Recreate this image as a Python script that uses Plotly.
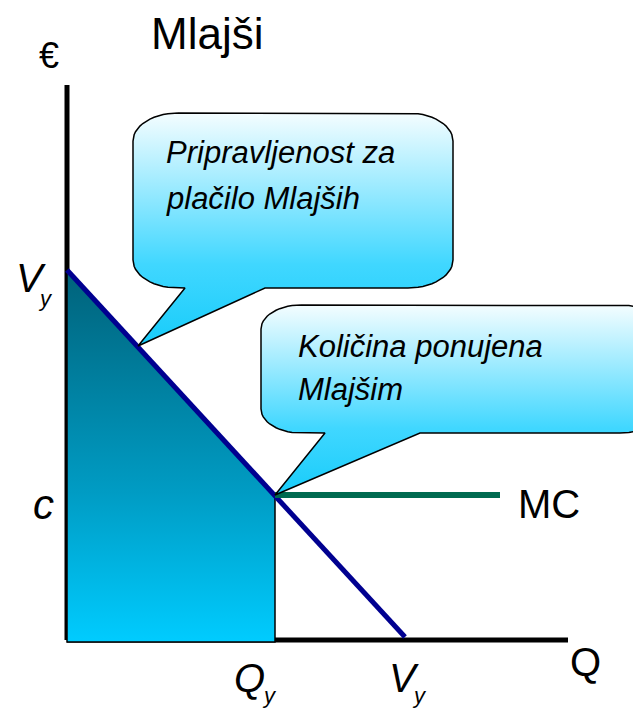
import math
import plotly.graph_objects as go

# ---- data (conceptual economic diagram, in chart units) ----
demand_q = [0, 338]          # quantity at Vy (price intercept) and near Vy (quantity intercept)
demand_p = [370, 3]
c_price = 145                # marginal cost level c
q_young = 208                # Qy
mc_q = [208, 433]
mc_p = [145, 145]
axis_price_top = 555
axis_q_right = 501
willingness_point = (71, 294)  # point on demand curve the first callout points at

labels_text = {
    "title": "Mlajši",
    "euro": "€",
    "callout1": ["Pripravljenost za", "plačilo Mlajših"],
    "callout2": ["Količina ponujena", "Mlajšim"],
}

PAGE_OFF = 8                 # default body margin of the page
W, H = 641 - PAGE_OFF, 709 - PAGE_OFF
X0PIX, Y0PIX = 67, 640       # page-pixel position of origin


def P(px, py):
    return px - X0PIX, Y0PIX - py


def topix(x, y):
    return x + X0PIX, Y0PIX - y


fig = go.Figure()

# axes
fig.add_trace(go.Scatter(x=[0, 0], y=[axis_price_top, 0], mode="lines",
                         line=dict(color="black", width=5), hoverinfo="skip"))
fig.add_trace(go.Scatter(x=[0, axis_q_right], y=[0, 0], mode="lines",
                         line=dict(color="black", width=5), hoverinfo="skip"))

# shaded area under demand up to Qy
slope = (demand_p[1] - demand_p[0]) / (demand_q[1] - demand_q[0])
p_at_q = demand_p[0] + slope * q_young
fig.add_trace(go.Scatter(
    x=[0, q_young, q_young, 0, 0], y=[demand_p[0], p_at_q, -2, -2, demand_p[0]],
    mode="lines", fill="toself", line=dict(color="black", width=1.5),
    fillgradient=dict(type="vertical",
                      colorscale=[[0, "#00CCFF"], [0.4, "#009CC4"], [1, "#00627A"]]),
    hoverinfo="skip"))

# demand line
fig.add_trace(go.Scatter(x=demand_q, y=demand_p, mode="lines",
                         line=dict(color="#000090", width=5), hoverinfo="skip"))
# MC line
fig.add_trace(go.Scatter(x=mc_q, y=mc_p, mode="lines",
                         line=dict(color="#006A50", width=6), hoverinfo="skip"))


def bubble(x0, y0, x1, y1, rx, ry, bl, br, tip):
    pts = []
    n = 14

    def arc(cx, cy, a0, a1):
        for i in range(n + 1):
            t = math.radians(a0 + (a1 - a0) * i / n)
            pts.append((cx + rx * math.cos(t), cy + ry * math.sin(t)))
    pts.append((x0 + rx, y0))
    arc(x1 - rx, y0 + ry, -90, 0)
    arc(x1 - rx, y1 - ry, 0, 90)
    pts.append((br, y1))
    pts.append(tip)
    pts.append((bl, y1))
    arc(x0 + rx, y1 - ry, 90, 180)
    arc(x0 + rx, y0 + ry, 180, 270)
    pts.append((x0 + rx, y0))
    xs, ys = zip(*[P(a, b) for a, b in pts])
    return list(xs), list(ys)


bub_scale = [[0, "#18CCFA"], [0.35, "#40D7FF"], [1, "#F4FDFF"]]
tip1 = topix(*willingness_point)
bx, by = bubble(133, 113, 453, 288, 45, 28, 185, 265, tip1)
fig.add_trace(go.Scatter(x=bx, y=by, mode="lines", fill="toself",
                         line=dict(color="black", width=1.5),
                         fillgradient=dict(type="vertical", colorscale=bub_scale),
                         hoverinfo="skip"))
tip2 = topix(q_young, c_price)
bx, by = bubble(261, 305, 660, 433, 40, 24, 325, 420, tip2)
fig.add_trace(go.Scatter(x=bx, y=by, mode="lines", fill="toself",
                         line=dict(color="black", width=1.5),
                         fillgradient=dict(type="vertical", colorscale=bub_scale),
                         hoverinfo="skip"))

FONT = "Liberation Sans, Arial, sans-serif"


def label(text, px, py, size, xanchor="center", italic=False):
    x, y = P(px, py)
    t = f"<i>{text}</i>" if italic else text
    fig.add_annotation(x=x, y=y, text=t, showarrow=False, xanchor=xanchor,
                       yanchor="middle", font=dict(family=FONT, size=size, color="black"))


label(labels_text["title"], 207, 33, 44)
label(labels_text["euro"], 49, 55, 36)
label("V", 31, 278, 40, italic=True)
label("y", 45, 298, 22, italic=True)
label("c", 43, 504, 42, italic=True)
label("Q", 249, 678, 40, italic=True)
label("y", 269, 695, 22, italic=True)
label("V", 404, 678, 40, italic=True)
label("y", 419, 695, 22, italic=True)
label("Q", 585, 662, 40)
label("MC", 549, 504, 40)
label(labels_text["callout1"][0], 164, 152, 31, xanchor="left", italic=True)
label(labels_text["callout1"][1], 164, 198, 31, xanchor="left", italic=True)
label(labels_text["callout2"][0], 296, 346, 31, xanchor="left", italic=True)
label(labels_text["callout2"][1], 296, 389, 31, xanchor="left", italic=True)

fig.update_layout(
    width=W, height=H, margin=dict(l=0, r=0, t=0, b=0),
    paper_bgcolor="white", plot_bgcolor="white", showlegend=False,
    xaxis=dict(range=[PAGE_OFF - X0PIX, PAGE_OFF + W - X0PIX], visible=False, fixedrange=True),
    yaxis=dict(range=[Y0PIX - PAGE_OFF - H, Y0PIX - PAGE_OFF], visible=False, fixedrange=True),
)
fig.write_html("out.html")
